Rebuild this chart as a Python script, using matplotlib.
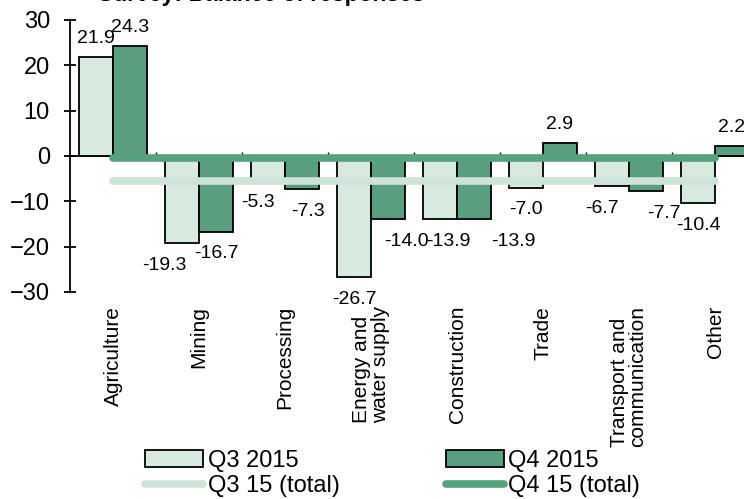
import numpy as np
import matplotlib
matplotlib.use('Agg')
import matplotlib.pyplot as plt
from matplotlib.patches import Patch
from matplotlib.lines import Line2D

plt.rcParams['font.family'] = ['Liberation Sans', 'DejaVu Sans']

# Survey data: balance of responses by sector
categories = ['Agriculture', 'Mining', 'Processing', 'Energy and\nwater supply',
              'Construction', 'Trade', 'Transport and\ncommunication', 'Other']
q3_2015 = [21.9, -19.3, -5.3, -26.7, -13.9, -7.0, -6.7, -10.4]
q4_2015 = [24.3, -16.7, -7.3, -14.0, -13.9, 2.9, -7.7, 2.2]
q3_total = -5.5
q4_total = -0.5

light = '#d8e9df'
dark = '#5a9e80'
light_line = '#cde4d7'
dark_line = '#56a27d'

# sideways nudges (points) so neighbouring value labels don't collide
q3_nudge = [0, -13, -7, 0, 6, 0, -7, 0]
q4_nudge = [0, 0, 4, 13, 28, 0, 13, 0]

fig = plt.figure(figsize=(7.44, 4.99), dpi=100)
ax = fig.add_axes([70 / 744, 1 - 292 / 499, 688 / 744, 272 / 499])

x = np.arange(len(categories))
w = 0.395
ax.bar(x - w / 2, q3_2015, w, color=light, edgecolor='black', linewidth=1.3, zorder=2)
ax.bar(x + w / 2, q4_2015, w, color=dark, edgecolor='black', linewidth=1.3, zorder=2)

# totals drawn as flat lines across the sectors
ax.plot(x, [q3_total] * len(x), color=light_line, lw=5.5, solid_capstyle='round', zorder=3)
ax.plot(x, [q4_total] * len(x), color=dark_line, lw=5.5, solid_capstyle='round', zorder=3)

# value labels
for xs, vals, nudge in [(x - w / 2, q3_2015, q3_nudge), (x + w / 2, q4_2015, q4_nudge)]:
    for xi, v, dx in zip(xs, vals, nudge):
        dy = 13 if v >= 0 else -16
        ax.annotate(f'{v:.1f}', (xi, v), xytext=(dx, dy), textcoords='offset points',
                    ha='center', va='center', fontsize=14)

ax.set_xlim(-0.5, len(categories) - 0.5)
ax.set_ylim(-30, 30)
ax.set_yticks(range(-30, 31, 10))
ax.tick_params(axis='y', direction='inout', length=9, width=1.3, pad=10, labelsize=17)
ax.spines['left'].set_linewidth(1.3)
for s in ['top', 'right', 'bottom']:
    ax.spines[s].set_visible(False)

ax.set_xticks(x)
ax.set_xticklabels(categories, rotation=90, fontsize=15, multialignment='left',
                   linespacing=0.95)
ax.tick_params(axis='x', length=0, pad=10)

# zero line with small ticks between the sectors
zero = ax.secondary_xaxis(0, transform=ax.transData)
zero.set_xticks(np.arange(0.5, len(categories) - 0.5, 1))
zero.tick_params(axis='x', direction='inout', length=6, width=1, labelbottom=False, labeltop=False)
zero.spines['bottom'].set_linewidth(1.3)
zero.spines['top'].set_linewidth(1.3)

fig.text(261 / 744, 1 - 1.5 / 499, 'Survey: Balance of responses', ha='center', va='baseline',
         fontsize=16.5, fontweight='bold')

handles = [Patch(facecolor=light, edgecolor='black', linewidth=1.3),
           Line2D([], [], color=light_line, lw=5.5, solid_capstyle='round'),
           Patch(facecolor=dark, edgecolor='black', linewidth=1.3),
           Line2D([], [], color=dark_line, lw=5.5, solid_capstyle='round')]
labels = ['Q3 2015', 'Q3 15 (total)', 'Q4 2015', 'Q4 15 (total)']
fig.legend(handles, labels, ncol=2, loc='upper left', bbox_to_anchor=(145 / 744, 1 - 450 / 499),
           frameon=False, fontsize=17, handlelength=2.45, handletextpad=0.2,
           columnspacing=4.5, labelspacing=0.12, borderpad=0, borderaxespad=0)

plt.savefig('out.png', dpi=100)
